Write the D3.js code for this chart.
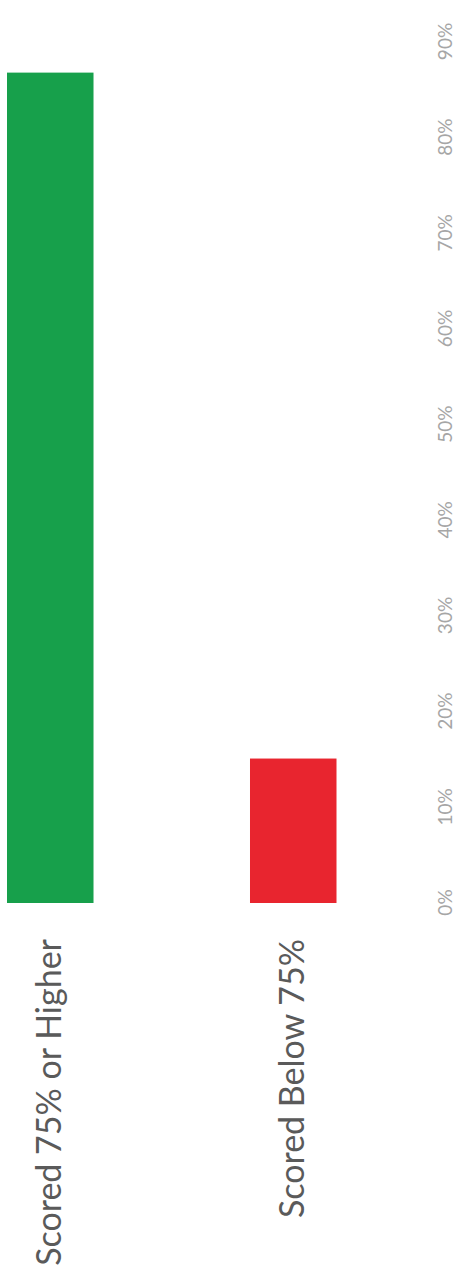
<!DOCTYPE html>
<html>
<head>
<meta charset="utf-8">
<script src="https://cdn.jsdelivr.net/npm/d3@7"></script>
<style>
  html, body { margin: 0; padding: 0; background: #fff; }
  svg { display: block; }
</style>
</head>
<body>
<div id="chart"></div>
<script>
// Share of students by score band
const categories = ["Scored 75% or Higher", "Scored Below 75%"];
const shares = [0.868, 0.151];
const barColors = ["#17a04b", "#e8252f"];
const tickValues = [0, 0.1, 0.2, 0.3, 0.4, 0.5, 0.6, 0.7, 0.8, 0.9];

const W = 457, H = 1274;

const svg = d3.select("#chart").append("svg")
  .attr("width", W)
  .attr("height", H);

// The chart is laid out as a horizontal bar chart, then turned a quarter turn
// counter-clockwise so the value axis runs up the page.
const g = svg.append("g")
  .attr("transform", `translate(0,${H}) rotate(-90)`);

const x = d3.scaleLinear()
  .domain([0, 0.9])
  .range([371, 1232]);

const y = d3.scaleBand()
  .domain(categories)
  .range([7, 336.5])
  .paddingInner(0.644)
  .paddingOuter(0);

// bars
g.selectAll("rect.bar")
  .data(categories)
  .join("rect")
  .attr("class", "bar")
  .attr("x", x(0))
  .attr("y", d => y(d))
  .attr("width", (d, i) => x(shares[i]) - x(0))
  .attr("height", y.bandwidth())
  .attr("fill", (d, i) => barColors[i]);

// value axis (labels only)
const xAxis = d3.axisBottom(x)
  .tickValues(tickValues)
  .tickFormat(d3.format(".0%"))
  .tickSize(0)
  .tickPadding(0);

const axisG = g.append("g")
  .attr("transform", "translate(0,452)")
  .call(xAxis);
axisG.select(".domain").remove();
axisG.selectAll("text")
  .attr("dy", null)
  .attr("y", 0)
  .attr("font-family", "Lato, 'Open Sans', sans-serif")
  .attr("font-size", 19)
  .attr("fill", "#a6a6a6");

// category labels
g.selectAll("text.cat")
  .data(categories)
  .join("text")
  .attr("class", "cat")
  .attr("x", 335)
  .attr("y", d => y(d) + y.bandwidth() / 2 + 11)
  .attr("text-anchor", "end")
  .attr("font-family", "Lato, 'Open Sans', sans-serif")
  .attr("font-size", 34)
  .attr("fill", "#5a5a5a")
  .text(d => d);
</script>
</body>
</html>
